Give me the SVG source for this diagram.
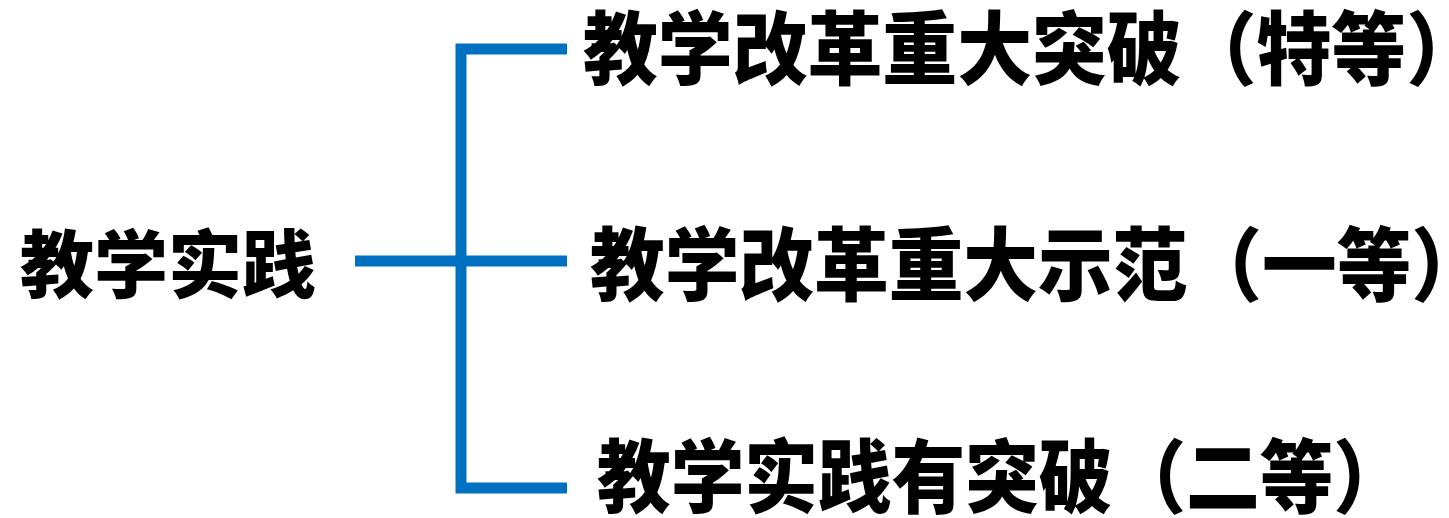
<svg xmlns="http://www.w3.org/2000/svg" width="1449" height="518" viewBox="0 0 1449 518">
<style>
.t{font-family:"Liberation Sans","Noto Sans CJK SC",sans-serif;font-weight:900;fill:#000}
.c{fill:none;stroke:#0070C0;stroke-width:11}
</style>
<rect width="1449" height="518" fill="#fff"/>
<g id="connectors">
<path class="c" d="M567 49H461V488H567"/>
<path class="c" d="M355 261H567"/>
</g>
<g id="root"><text class="t" x="20" y="292" font-size="74">教学实践</text></g>
<g id="n1"><text class="t" x="583" y="78" font-size="80" textLength="898" lengthAdjust="spacingAndGlyphs">教学改革重大突破（特等）</text></g>
<g id="n2"><text class="t" x="590" y="294" font-size="80" textLength="896" lengthAdjust="spacingAndGlyphs">教学改革重大示范（一等）</text></g>
<g id="n3"><text class="t" x="597" y="506" font-size="80" textLength="810" lengthAdjust="spacingAndGlyphs">教学实践有突破（二等）</text></g>
</svg>
